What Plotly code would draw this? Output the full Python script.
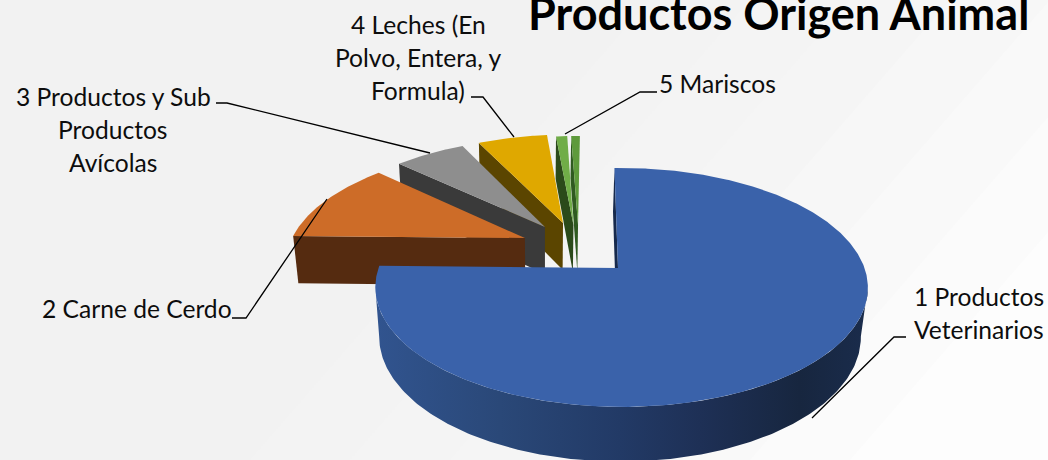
import numpy as np
import plotly.graph_objects as go

# ---- data -------------------------------------------------------------
categories = ["1 Productos Veterinarios", "2 Carne de Cerdo",
              "3 Productos y Sub Productos Avícolas",
              "4 Leches (En Polvo, Entera, y Formula)", "5 Mariscos", "6 Otros"]
values = [75.6, 11.5, 5.7, 5.6, 0.9, 0.7]
pull_u = [0.0144, -0.40, -0.319, -0.2415, -0.195, -0.175]
pull_v = [0.0, -0.269, -0.374, -0.413, -0.393, -0.393]
apex_u = [-0.0144, 0.0, 0.0, 0.0, 0.0, 0.0]
top_colors = ["#3A62AA", "#CD6C28", "#8E8E8E", "#DFA800", "#70AD47", "#5E9A3C"]
side_colors = ["#1B2F55", "#552B10", "#3A3A3A", "#5B4500", "#2B4A1A", "#2F5A20"]
title_text = "Productos Origen Animal"
label_lines = [
    ["1 Productos", "Veterinarios"],
    ["2 Carne de Cerdo"],
    ["3 Productos y Sub", "Productos", "Avícolas"],
    ["4 Leches (En", "Polvo, Entera, y", "Formula)"],
    ["5 Mariscos"],
]

# ---- projection of the disc (u, v in disc radii; z=0 top, z=1 bottom) --
X0, Y0, A, B, K, C, M, E = 618, 268, 243, 116.3, 0.163, 50, 0.022, -1.5
START = -1.0


def project(u, v, z=0.0):
    u, v = np.asarray(u, float), np.asarray(v, float)
    w = 1 - K * v + M * z
    return X0 + A * u / w + E * z, Y0 + (B * v + C * z) / w


def rim(theta, pu, pv, z=0.0):
    t = np.radians(theta)
    return project(np.sin(t) + pu, -np.cos(t) + pv, z)


fig = go.Figure()


def poly(xs, ys, color, **kw):
    fig.add_trace(go.Scatter(x=np.asarray(xs), y=np.asarray(ys), mode="lines", fill="toself",
                             fillcolor=color, line=dict(width=0, color=color),
                             hoverinfo="skip", showlegend=False, **kw))


edges = START + np.cumsum([0] + values) * 360.0 / sum(values)

for i in reversed(range(len(values))):
    a0, a1 = edges[i], edges[i + 1]
    if i == 0:
        a0 -= 0.8
    pu, pv = pull_u[i], pull_v[i]
    # cut face on the starting edge
    cx_t, cy_t = project(pu + apex_u[i], pv, 0)
    cx_b, cy_b = project(pu + apex_u[i], pv, 1)
    rx_t, ry_t = rim(a0, pu, pv, 0)
    rx_b, ry_b = rim(a0, pu, pv, 1)
    poly([cx_t, rx_t, rx_b, cx_b, cx_t], [cy_t, ry_t, ry_b, cy_b, cy_t],
         "#16294C" if i == 0 else side_colors[i])
    # outer wall, only for the big front slice (between its two silhouette points)
    if i == 0:
        th = np.linspace(99, 261, 200)
        xt, yt = rim(th, pu, pv, 0)
        xb, yb = rim(th, pu, pv, 1)
        xs = np.r_[xt, xb[::-1], xt[0]]
        ys = np.r_[yt, yb[::-1], yt[0]]
        lo, hi = xs.min(), xs.max()
        stops = [(380, "#31548F"), (500, "#2A4878"), (620, "#223A66"),
                 (700, "#1E3056"), (800, "#17263F"), (868, "#1A2C4C")]
        scale = [[max(0, min(1, (p - lo) / (hi - lo))), c] for p, c in stops]
        scale[0][0], scale[-1][0] = 0, 1
        fig.add_trace(go.Scatter(x=xs, y=ys, mode="lines", fill="toself",
                                 line=dict(width=0), hoverinfo="skip", showlegend=False,
                                 fillgradient=dict(type="horizontal", colorscale=scale)))
    # top surface
    th = np.linspace(a0, a1, max(int(a1 - a0) * 2, 12))
    xt, yt = rim(th, pu, pv, 0)
    poly(np.r_[cx_t, xt, cx_t], np.r_[cy_t, yt, cy_t], top_colors[i])

# ---- leader lines ------------------------------------------------------
leaders = [
    [(906, 337), (894, 337), (812, 418)],
    [(232, 318), (246, 318), (327, 199)],
    [(216, 103), (227, 103), (430, 153)],
    [(471, 97), (483, 97), (514, 137)],
    [(657, 92), (640, 92), (565, 134)],
]
for pts in leaders:
    fig.add_trace(go.Scatter(x=[p[0] for p in pts], y=[p[1] for p in pts], mode="lines",
                             line=dict(color="#000000", width=1.3), hoverinfo="skip",
                             showlegend=False))

# ---- text ---------------------------------------------------------------
FONT = "Lato, sans-serif"
anchors = [(979, 296), (137, 308), (113, 96), (418, 24), (717, 83)]
annotations = []
for lines, (ax, ay) in zip(label_lines, anchors):
    for j, line in enumerate(lines):
        annotations.append(dict(x=ax, y=ay + j * 33, xref="x", yref="y", text=line,
                                showarrow=False, xanchor="center", yanchor="middle",
                                font=dict(family=FONT, size=24.6, color="#0D0D0D")))
annotations.append(dict(x=778, y=13, xref="x", yref="y", text="<b>" + title_text + "</b>",
                        showarrow=False, xanchor="center", yanchor="middle",
                        font=dict(family=FONT, size=45, color="#000000")))

# ---- faint diagonal background bands --------------------------------------
shades = ["#F2F2F2", "#F3F3F3", "#F4F4F4", "#F5F5F5", "#F7F7F7", "#F9F9F9", "#FBFBFB", "#FDFDFD"]
shapes = [dict(type="rect", xref="paper", yref="paper", x0=0, x1=1, y0=0, y1=1,
               fillcolor=shades[0], line_width=0, layer="below")]
for n, shade in enumerate(shades[1:], 1):
    s = 250 + n * 100
    shapes.append(dict(type="path", xref="x", yref="y", layer="below", line_width=0,
                       fillcolor=shade,
                       path=f"M {s+300},0 L 1048,0 L 1048,460 L {s-100},460 Z"))

fig.update_layout(
    width=1048, height=460, margin=dict(l=0, r=0, t=0, b=0),
    paper_bgcolor="#F2F2F2", plot_bgcolor="rgba(0,0,0,0)",
    xaxis=dict(range=[0, 1048], visible=False, fixedrange=True),
    yaxis=dict(range=[460, 0], visible=False, fixedrange=True),
    showlegend=False, annotations=annotations, shapes=shapes,
)
fig.write_html("out.html", config=dict(displayModeBar=False),
               post_script="document.body.style.margin='0';")
